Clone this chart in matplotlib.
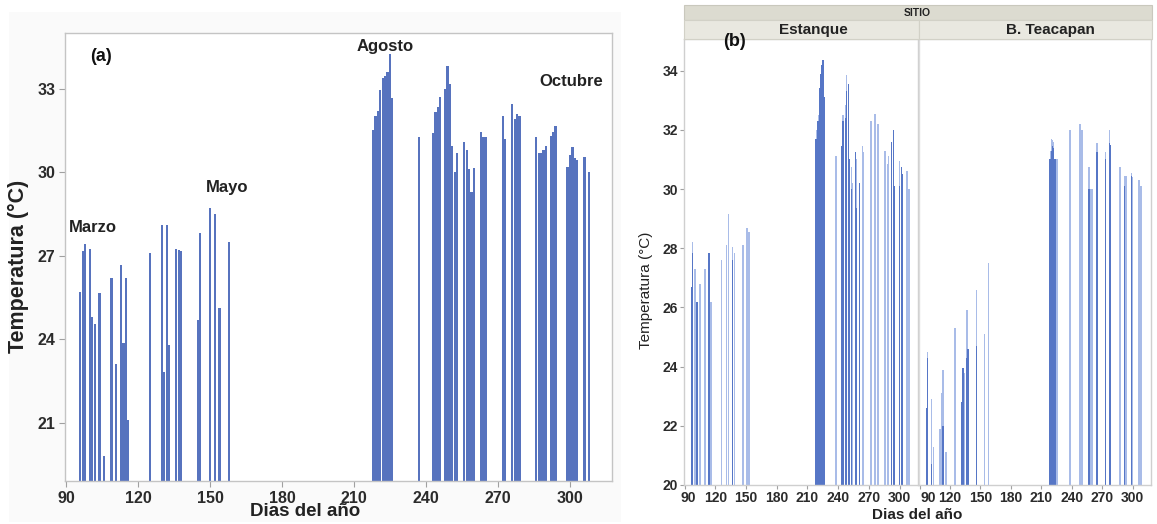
import numpy as np
import matplotlib.pyplot as plt
from matplotlib.patches import Rectangle
from matplotlib.transforms import ScaledTranslation

plt.rcParams['font.family'] = ['Liberation Sans', 'DejaVu Sans']

# ---- (a) temperatura diaria, todos los sitios ----
dias_a = [96, 97, 98, 100, 101, 102, 104, 106, 109, 111, 113, 114, 115, 116,
          125, 130, 131, 132, 133, 136, 137, 138, 145, 146, 150, 152, 154, 158,
          218, 219, 220, 221, 222, 223, 224, 225, 226, 237,
          243, 244, 245, 246, 248, 249, 250, 251, 252, 253,
          256, 257, 258, 259, 260, 263, 264, 265, 272, 273,
          276, 277, 278, 279, 286, 287, 288, 289, 290, 292, 293, 294,
          299, 300, 301, 302, 303, 306, 308]
temp_a = [25.7, 27.15, 27.4, 27.25, 24.8, 24.55, 25.65, 19.8, 26.2, 23.1, 26.65, 23.85, 26.2, 21.1,
          27.1, 28.1, 22.8, 28.1, 23.8, 27.25, 27.2, 27.15, 24.7, 27.8, 28.7, 28.5, 25.1, 27.5,
          31.5, 32.0, 32.2, 32.95, 33.4, 33.45, 33.6, 34.25, 32.65, 31.25,
          31.4, 32.15, 32.35, 32.7, 33.0, 33.8, 33.15, 30.95, 30.0, 30.7,
          31.1, 30.8, 30.1, 29.3, 30.15, 31.45, 31.25, 31.25, 32.0, 31.2,
          32.45, 31.9, 32.1, 32.0, 31.25, 30.7, 30.7, 30.8, 30.95, 31.3, 31.45, 31.65,
          30.2, 30.6, 30.9, 30.5, 30.45, 30.55, 30.0]

meses = ['Marzo', 'Mayo', 'Agosto', 'Octubre']
meses_x = [101.3, 157.1, 222.9, 300.4]
meses_y = [28.0, 29.45, 34.5, 33.25]

# ---- (b) por sitio (varias lecturas por dia) ----
estanque_dias = [97, 97, 98, 98, 100, 102, 102, 105, 110, 114, 114, 116, 126, 131, 133,
                 137, 137, 139, 147, 151, 153,
                 218, 218, 219, 219, 220, 220, 221, 221, 222, 222, 223, 223, 224, 224,
                 225, 225, 226, 226, 238,
                 244, 244, 245, 245, 247, 247, 248, 248, 250, 250, 251, 251, 253, 253, 254,
                 257, 257, 258, 258, 261, 261, 264, 265, 272, 276, 279,
                 286, 288, 289, 292, 292, 294, 294, 295, 295, 300, 300, 302, 302, 303, 303,
                 307, 309]
estanque_temp = [26.7, 26.7, 27.85, 28.2, 27.3, 26.2, 26.2, 26.8, 27.3, 27.85, 27.85, 26.2, 27.6, 28.1, 29.15,
                 27.6, 28.05, 27.85, 28.1, 28.7, 28.55,
                 31.7, 31.7, 31.7, 32.0, 32.3, 32.3, 32.3, 32.5, 33.4, 33.4, 33.9, 33.9, 34.2, 34.2,
                 34.35, 34.35, 33.1, 33.1, 31.1,
                 31.45, 31.45, 32.3, 32.5, 32.4, 32.85, 33.3, 33.85, 33.55, 33.55, 31.0, 31.0, 30.0, 30.75, 30.2,
                 31.25, 31.25, 29.35, 31.0, 30.2, 30.2, 31.45, 31.25, 32.3, 32.55, 32.2,
                 31.3, 30.85, 31.1, 31.6, 31.6, 32.0, 32.0, 30.1, 30.1, 30.1, 30.95, 30.75, 30.75, 30.5, 30.5,
                 30.6, 30.0]

teacapan_dias = [97, 97, 98, 98, 102, 102, 104, 110, 112, 113, 113, 116, 125, 132, 132,
                 133, 133, 134, 137, 137, 138, 138, 146, 146, 154, 158,
                 218, 218, 219, 219, 220, 220, 221, 221, 222, 222, 223, 223, 224, 224, 225, 226,
                 238, 248, 250, 257, 257, 259, 260, 265, 265, 273, 273, 277, 277, 278, 278,
                 287, 288, 292, 292, 293, 294, 299, 299, 300, 306, 308]
teacapan_temp = [22.6, 22.6, 24.3, 24.5, 20.7, 22.9, 21.3, 21.9, 23.1, 22.0, 23.9, 21.1, 25.3, 22.8, 22.8,
                 23.95, 23.95, 23.8, 24.3, 25.9, 24.6, 24.6, 24.7, 26.6, 25.1, 27.5,
                 31.0, 31.0, 31.0, 31.3, 31.3, 31.7, 31.45, 31.65, 31.4, 31.6, 31.0, 31.0, 31.0, 31.0, 31.0, 31.0,
                 32.0, 32.2, 32.0, 30.0, 30.75, 30.0, 30.0, 31.25, 31.55, 31.0, 31.25, 31.55, 32.0, 31.5, 31.5,
                 30.75, 30.75, 30.1, 30.45, 30.45, 30.45, 30.45, 30.55, 30.4, 30.3, 30.1]

W, H = 1157, 524
fig = plt.figure(figsize=(W / 100, H / 100), dpi=100)


def px_axes(l, t, r, b):
    return fig.add_axes([l / W, 1 - b / H, (r - l) / W, (b - t) / H])


def ftext(x, y, s, **kw):
    fig.text(x / W, 1 - y / H, s, ha='center', va='center', **kw)


def px_rect(l, t, r, b, **kw):
    fig.add_artist(Rectangle((l / W, 1 - b / H), (r - l) / W, (b - t) / H,
                             transform=fig.transFigure, **kw))


def style_ticks(ax, size, pad=3, length=4):
    ax.tick_params(length=length, width=0.8, color='#a0a0a0', labelsize=size,
                   labelcolor='#2b2b2b', pad=pad)
    for lab in ax.get_xticklabels() + ax.get_yticklabels():
        lab.set_fontweight('bold')


# fondo tenue del panel (a)
px_rect(9, 12, 621, 522, facecolor='#fafafa', edgecolor='none', zorder=0)

# ---------------- panel (a) ----------------
ax_a = px_axes(65, 33, 612, 481)
ax_a.set_facecolor('white')
ax_a.bar(dias_a, np.array(temp_a) - 18.9, bottom=18.9, width=0.92,
         color='#5773be', linewidth=0)
ax_a.set_xlim(89.6, 317.5)
ax_a.set_ylim(18.9, 35.0)
ax_a.set_xticks(range(90, 301, 30))
ax_a.set_yticks([21, 24, 27, 30, 33])
for s in ax_a.spines.values():
    s.set_color('#c4c4c4')
    s.set_linewidth(1.0)
style_ticks(ax_a, 11.5)
for m, x, y in zip(meses, meses_x, meses_y):
    ax_a.text(x, y, m, ha='center', va='center', fontsize=12, fontweight='bold', color='#222222')
ax_a.text(104.6, 34.15, '(a)', ha='center', va='center', fontsize=13, fontweight='bold', color='#111111')

ftext(18, 266, 'Temperatura (°C)', rotation=90, fontsize=15.5, fontweight='bold', color='#222222')
ftext(305, 512, 'Dias del año', fontsize=13.5, fontweight='bold', color='#222222')

# ---------------- panel (b) ----------------
ax_e = px_axes(684, 39, 918, 485)
ax_t = px_axes(919, 39, 1151, 485)

for ax, dias, temps in [(ax_e, estanque_dias, estanque_temp),
                        (ax_t, teacapan_dias, teacapan_temp)]:
    lecturas = {}
    for d, t in zip(dias, temps):
        lecturas.setdefault(d, []).append(t)
    dd = sorted(lecturas)
    t_max = np.array([max(lecturas[d]) for d in dd])
    t_min = np.array([min(lecturas[d]) for d in dd])
    n = np.array([len(lecturas[d]) for d in dd])
    # lectura mas alta en tono claro, solapamiento en tono oscuro
    ax.bar(dd, t_max - 20, bottom=20, width=1.5, color='#a9bce8', linewidth=0)
    dob = n > 1
    ax.bar(np.array(dd)[dob], t_min[dob] - 20, bottom=20, width=1.5,
           color='#5676c6', linewidth=0)
    ax.set_xlim(89.5, 318)
    ax.set_ylim(20, 35.07)
    ax.set_xticks(range(90, 301, 30))
    for s in ax.spines.values():
        s.set_color('#cfcfcf')
        s.set_linewidth(1.0)

ax_e.set_yticks(range(20, 35, 2))
ax_t.set_yticks([])
ax_t.spines['left'].set_color('#dcdcdc')
style_ticks(ax_e, 10, pad=1.5, length=3)
style_ticks(ax_t, 10, pad=1.5, length=3)

# el primer rotulo (90) de cada faceta va corrido a la derecha
for ax, dx in [(ax_e, 4), (ax_t, 9)]:
    lab = ax.xaxis.get_majorticklabels()[0]
    lab.set_transform(lab.get_transform() + ScaledTranslation(dx / 100, 0, fig.dpi_scale_trans))

# tiras de encabezado
px_rect(684, 5, 1152, 20, facecolor='#dcdbd0', edgecolor='#c9c8bd', linewidth=0.8)
px_rect(684, 20, 918.5, 38.5, facecolor='#e9e8e0', edgecolor='#d2d1c7', linewidth=0.8)
px_rect(918.5, 20, 1152, 38.5, facecolor='#e9e8e0', edgecolor='#d2d1c7', linewidth=0.8)
ftext(917, 13, 'SITIO', fontsize=7.5, fontweight='bold', color='#222222')
ftext(813, 30, 'Estanque', fontsize=11, fontweight='bold', color='#222222')
ftext(1050, 30, 'B. Teacapan', fontsize=11, fontweight='bold', color='#222222')
ftext(735, 42, '(b)', fontsize=13, fontweight='bold', color='#111111')

ftext(646, 290, 'Temperatura (°C)', rotation=90, fontsize=11, color='#222222')
ftext(917, 515, 'Dias del año', fontsize=11, fontweight='bold', color='#222222')

fig.savefig('out.png', dpi=100)
